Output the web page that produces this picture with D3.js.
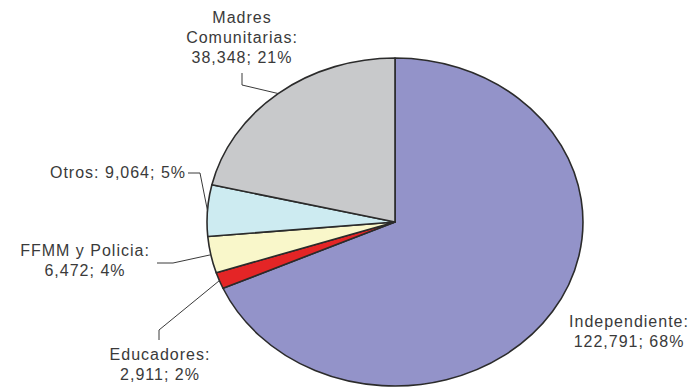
<!DOCTYPE html>
<html><head><meta charset="utf-8">
<script src="https://cdn.jsdelivr.net/npm/d3@7"></script>
<style>
html,body{margin:0;padding:0;background:#fff;}
text{font-family:"Liberation Sans",Arial,sans-serif;font-size:16px;fill:#3a3a3a;letter-spacing:1px;}
</style></head>
<body>
<svg id="chart" width="691" height="391"></svg>
<script>
const categories = ["Independiente", "Educadores", "FFMM y Policia", "Otros", "Madres Comunitarias"];
const values = [122791, 2911, 6472, 9064, 38348];
const pctLabels = ["68%", "2%", "4%", "5%", "21%"];
const colors = ["#9393c9", "#e42526", "#f9f7ca", "#cdebf1", "#c8c9cb"];

// label layout: lines of text, anchor x, first baseline, leader bend points
const labelLayout = [
  {lines: ["Independiente:", "{v}; {p}"], x: 629, y: 327, leader: null},
  {lines: ["Educadores:", "{v}; {p}"], x: 160, y: 360, leader: [[159, 340], [159, 330]]},
  {lines: ["FFMM y Policia:", "{v}; {p}"], x: 85, y: 256, leader: [[157, 263], [173, 263]]},
  {lines: ["Otros: {v}; {p}"], x: 118, y: 178, leader: [[188, 173], [200, 173]]},
  {lines: ["Madres", "Comunitarias:", "{v}; {p}"], x: 242, y: 23, leader: [[242, 73], [242, 85]]}
];

const cx = 395, cy = 222, rx = 188, ry = 164;
const svg = d3.select("#chart");
const fmt = d3.format(",");

const pie = d3.pie().sort(null).value(d => d)(values);
const arc = d3.arc().innerRadius(0).outerRadius(1);

const g = svg.append("g").attr("transform", `translate(${cx},${cy}) scale(${rx},${ry})`);
g.selectAll("path").data(pie).join("path")
  .attr("d", arc)
  .attr("fill", (d, i) => colors[i])
  .attr("stroke", "#2b2b2b")
  .attr("stroke-width", 1.6)
  .attr("stroke-linejoin", "round")
  .attr("vector-effect", "non-scaling-stroke");

const line = d3.line();
pie.forEach((d, i) => {
  const L = labelLayout[i];
  if (L.leader) {
    const a = (d.startAngle + d.endAngle) / 2;
    const edge = [cx + rx * Math.sin(a), cy - ry * Math.cos(a)];
    const pts = L.leader.concat([edge]);
    svg.append("path").attr("d", line(pts))
      .attr("fill", "none").attr("stroke", "#3a3a3a").attr("stroke-width", 1);
  }
  const t = svg.append("text").attr("text-anchor", "middle");
  L.lines.forEach((s, k) => {
    t.append("tspan").attr("x", L.x).attr("y", L.y + k * 20)
      .text(s.replace("{v}", fmt(values[i])).replace("{p}", pctLabels[i]));
  });
});
</script>
</body></html>
